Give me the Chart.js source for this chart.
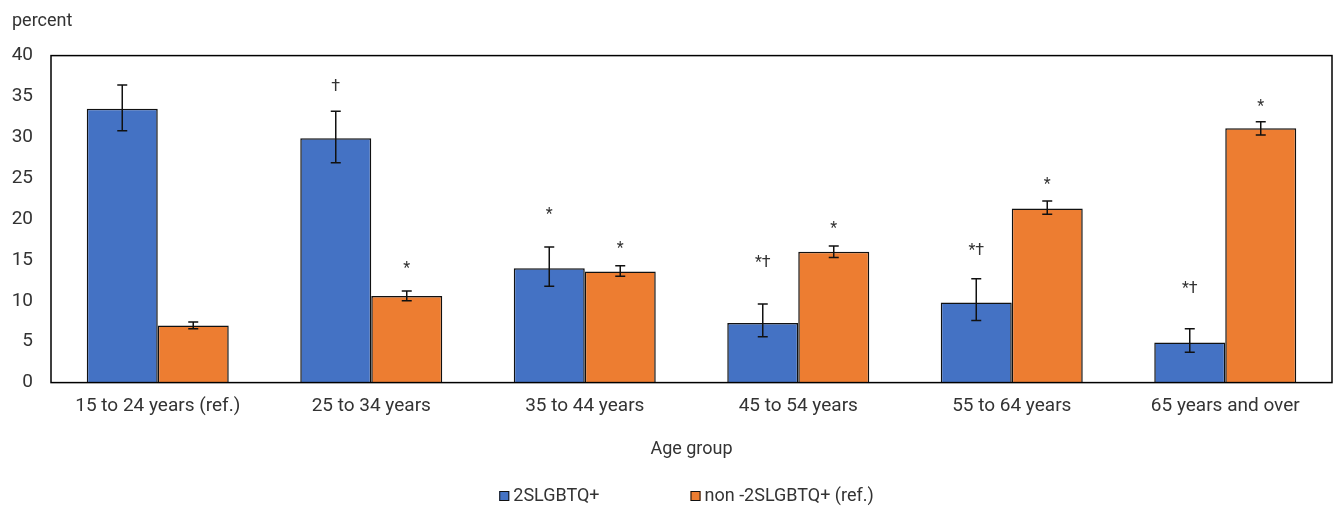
<!DOCTYPE html>
<html>
<head>
<meta charset="utf-8">
<title>Age group chart</title>
<script src="https://cdn.jsdelivr.net/npm/chart.js@4.4.0/dist/chart.umd.min.js"></script>
<style>
  html, body { margin: 0; padding: 0; background: #fff; }
  #wrap { width: 1333px; height: 506px; }
</style>
</head>
<body>
<div id="wrap"><canvas id="ageChart" width="1333" height="506"></canvas></div>
<script>
// Data
const categories = ['15 to 24 years (ref.)', '25 to 34 years', '35 to 44 years', '45 to 54 years', '55 to 64 years', '65 years and over'];
const seriesNames = ['2SLGBTQ+', 'non -2SLGBTQ+ (ref.)'];

const lgbtValues = [33.5, 29.9, 14.0, 7.3, 9.8, 4.9];
const lgbtLow = [30.8, 26.9, 11.8, 5.6, 7.6, 3.7];
const lgbtHigh = [36.4, 33.2, 16.6, 9.6, 12.7, 6.6];

const nonValues = [7.0, 10.6, 13.6, 16.0, 21.3, 31.1];
const nonLow = [6.6, 10.0, 13.0, 15.3, 20.6, 30.3];
const nonHigh = [7.4, 11.2, 14.3, 16.7, 22.2, 31.9];

// significance marks and the level (percent) they sit at
const lgbtMarks = ['', '†', '*', '*†', '*†', '*†'];
const lgbtMarkLevels = [null, 36.5, 20.9, 15.0, 16.5, 11.8];
const nonMarks = ['', '*', '*', '*', '*', '*'];
const nonMarkLevels = [null, 14.3, 16.7, 19.1, 24.5, 34.1];

const yTicks = [0, 5, 10, 15, 20, 25, 30, 35, 40];

const colors = ['#4472C4', '#ED7D31'];
const textColor = '#333333';
const fontFamily = 'Roboto, "Noto Sans", sans-serif';

const errorLows = [lgbtLow, nonLow];
const errorHighs = [lgbtHigh, nonHigh];
const marks = [lgbtMarks, nonMarks];
const markLevels = [lgbtMarkLevels, nonMarkLevels];

// frame around the plot area
const framePlugin = {
  id: 'frame',
  afterDraw(chart) {
    const { ctx, chartArea: a } = chart;
    ctx.save();
    ctx.strokeStyle = '#000';
    ctx.lineWidth = 1.5;
    ctx.strokeRect(a.left, a.top, a.right - a.left, a.bottom - a.top);
    ctx.restore();
  }
};

// error bars and significance marks
const errorBarPlugin = {
  id: 'errorBars',
  afterDatasetsDraw(chart) {
    const { ctx } = chart;
    const y = chart.scales.y;
    ctx.save();
    chart.data.datasets.forEach((ds, di) => {
      const meta = chart.getDatasetMeta(di);
      meta.data.forEach((bar, i) => {
        const yl = y.getPixelForValue(errorLows[di][i]);
        const yh = y.getPixelForValue(errorHighs[di][i]);
        ctx.strokeStyle = '#111';
        ctx.lineWidth = 1.5;
        ctx.beginPath();
        ctx.moveTo(bar.x, yl);
        ctx.lineTo(bar.x, yh);
        ctx.moveTo(bar.x - 5, yl);
        ctx.lineTo(bar.x + 5, yl);
        ctx.moveTo(bar.x - 5, yh);
        ctx.lineTo(bar.x + 5, yh);
        ctx.stroke();

        const m = marks[di][i];
        if (m) {
          ctx.fillStyle = textColor;
          ctx.font = '16px ' + fontFamily;
          ctx.textAlign = 'center';
          ctx.textBaseline = 'middle';
          ctx.fillText(m, bar.x, y.getPixelForValue(markLevels[di][i]) + 3);
        }
      });
    });
    ctx.restore();
  }
};

// legend along the bottom
const legendPlugin = {
  id: 'bottomLegend',
  afterDraw(chart) {
    const { ctx } = chart;
    ctx.save();
    ctx.font = '18px ' + fontFamily;
    const gap = 4, box = 10, spacing = 91;
    const widths = seriesNames.map(n => ctx.measureText(n).width);
    const total = widths.reduce((s, w) => s + box + gap + w, 0) + spacing;
    let x = chart.width / 2 + 20 - total / 2;
    const cy = chart.height - 10;
    seriesNames.forEach((name, i) => {
      ctx.fillStyle = colors[i];
      ctx.fillRect(x, cy - 5, box, box);
      ctx.strokeStyle = '#111';
      ctx.lineWidth = 1;
      ctx.strokeRect(x + 0.5, cy - 4.5, box - 1, box - 1);
      ctx.fillStyle = textColor;
      ctx.textAlign = 'left';
      ctx.textBaseline = 'middle';
      ctx.fillText(name, x + box + gap, cy);
      x += box + gap + widths[i] + spacing;
    });
    ctx.restore();
  }
};

const ctx = document.getElementById('ageChart').getContext('2d');
new Chart(ctx, {
  type: 'bar',
  data: {
    labels: categories,
    datasets: [
      {
        label: seriesNames[0],
        data: lgbtValues,
        backgroundColor: colors[0],
        borderColor: '#111',
        borderWidth: 1.5
      },
      {
        label: seriesNames[1],
        data: nonValues,
        backgroundColor: colors[1],
        borderColor: '#111',
        borderWidth: 1.5
      }
    ]
  },
  options: {
    responsive: false,
    animation: false,
    devicePixelRatio: 1,
    layout: { padding: { left: 12, right: 1, top: 0, bottom: 46 } },
    datasets: {
      bar: { categoryPercentage: 0.665, barPercentage: 1.0 }
    },
    scales: {
      x: {
        grid: { display: false, drawTicks: false },
        border: { display: false },
        ticks: {
          color: textColor,
          font: { family: fontFamily, size: 19 },
          padding: 12,
          maxRotation: 0
        },
        title: {
          display: true,
          text: 'Age group',
          color: textColor,
          font: { family: fontFamily, size: 18 },
          padding: { top: 9, bottom: 0 }
        }
      },
      y: {
        min: 0,
        max: 40,
        grid: { display: false, drawTicks: false },
        border: { display: false },
        afterBuildTicks: scale => { scale.ticks = yTicks.map(v => ({ value: v })); },
        afterFit: scale => { scale.width = 39; },
        ticks: {
          color: textColor,
          font: { family: fontFamily, size: 19 },
          padding: 18
        }
      }
    },
    plugins: {
      legend: { display: false },
      tooltip: { enabled: false },
      title: {
        display: true,
        text: 'percent',
        align: 'start',
        color: textColor,
        font: { family: fontFamily, size: 18, weight: 'normal' },
        padding: { top: 11, bottom: 23 }
      }
    }
  },
  plugins: [framePlugin, errorBarPlugin, legendPlugin]
});
</script>
</body>
</html>
